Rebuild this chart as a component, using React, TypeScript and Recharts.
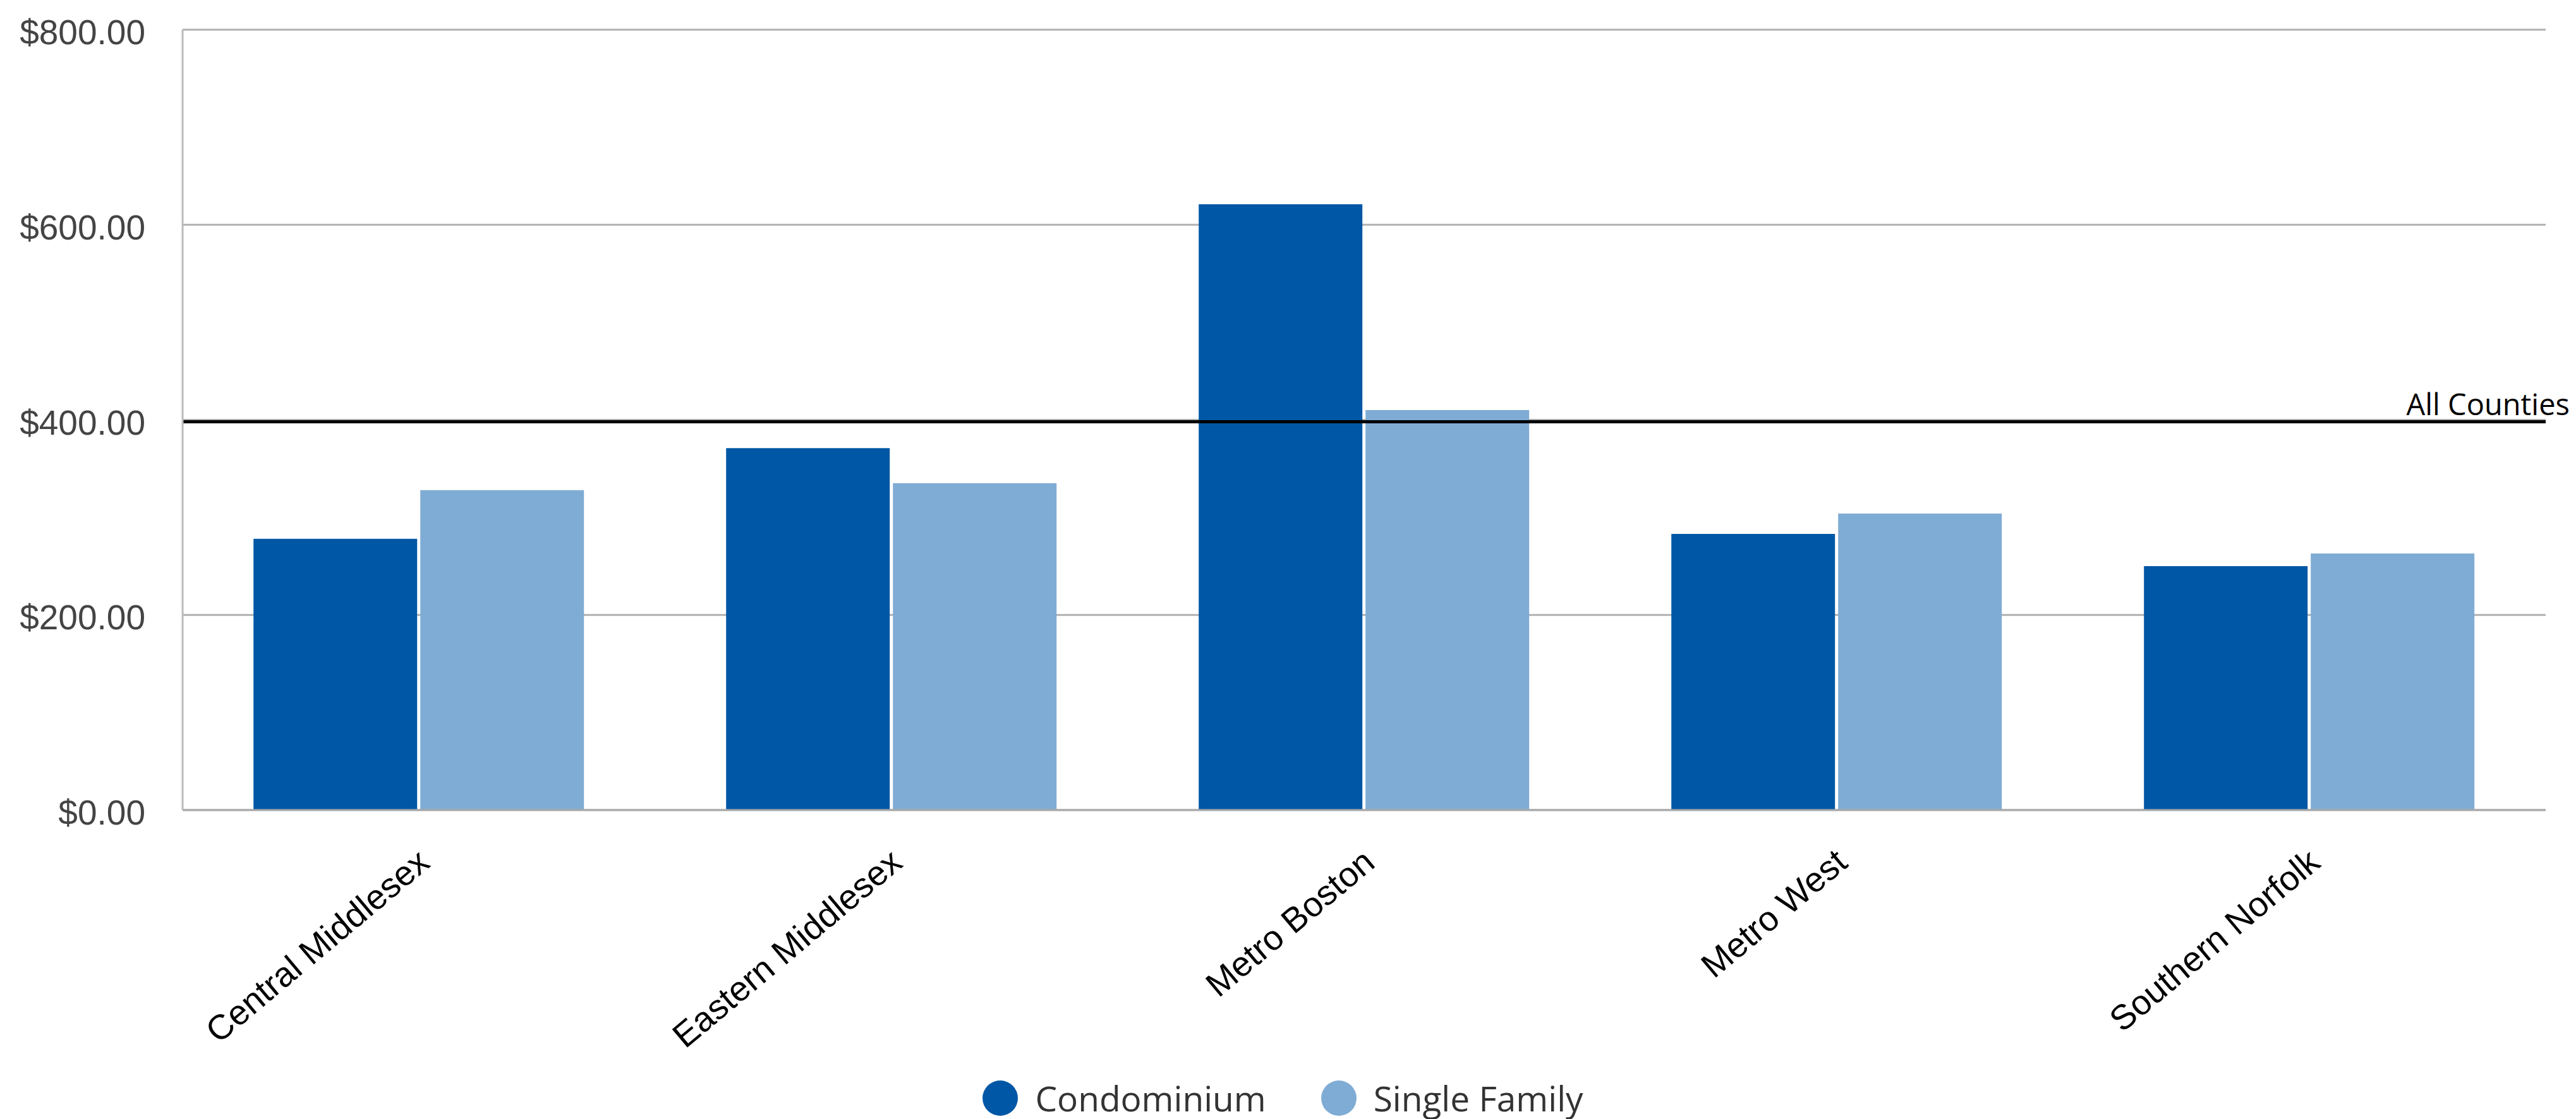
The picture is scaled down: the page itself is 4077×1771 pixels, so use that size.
import React from "react";
import {
  BarChart,
  Bar,
  XAxis,
  YAxis,
  CartesianGrid,
  ReferenceLine,
  Legend,
} from "recharts";

const categories = [
  "Central Middlesex",
  "Eastern Middlesex",
  "Metro Boston",
  "Metro West",
  "Southern Norfolk",
];
const condominiumValues = [278, 371, 621, 283, 250];
const singleFamilyValues = [328, 335, 410, 304, 263];
const yTicks = [0, 200, 400, 600, 800];
const allCountiesValue = 398;
const seriesNames = ["Condominium", "Single Family"];
const seriesColors = ["#0057a5", "#7facd4"];

const data = categories.map((c, i) => ({
  name: c,
  condo: condominiumValues[i],
  single: singleFamilyValues[i],
}));

const W = 4077;
const H = 1771;

const XTick = (props: any) => {
  const { x, y, payload } = props;
  const px = x + 20;
  const py = y + 88;
  return (
    <text
      x={px}
      y={py}
      transform={`rotate(-40, ${px}, ${py})`}
      textAnchor="end"
      fontFamily="'Liberation Sans', Arial, sans-serif"
      fontSize={55}
      fill="#000"
    >
      {payload.value}
    </text>
  );
};

const YTick = (props: any) => {
  const { x, y, payload } = props;
  return (
    <text
      x={x}
      y={y + 4}
      textAnchor="end"
      dominantBaseline="central"
      fontFamily="'Liberation Sans', Arial, sans-serif"
      fontSize={55}
      fill="#444"
    >
      {`$${Number(payload.value).toFixed(2)}`}
    </text>
  );
};

const RefLabel = (props: any) => {
  const vb = props.viewBox || {};
  return (
    <text
      x={vb.x + vb.width + 38}
      y={vb.y - 11}
      textAnchor="end"
      fontFamily="'Open Sans', sans-serif"
      fontSize={47}
      fill="#000"
    >
      All Counties
    </text>
  );
};

const LegendContent = () => {
  const items = seriesNames.map((n, i) => ({ value: n, color: seriesColors[i] }));
  return (
    <div
      style={{
        display: "flex",
        justifyContent: "center",
        alignItems: "center",
        height: 80,
        width: W,
        paddingRight: 16,
        boxSizing: "border-box",
        fontFamily: "'Open Sans', sans-serif",
        fontSize: 55,
        color: "#333",
      }}
    >
      {items.map((it, i) => (
        <div
          key={it.value}
          style={{
            display: "flex",
            alignItems: "center",
            marginLeft: i === 0 ? 0 : 87,
          }}
        >
          <span
            style={{
              display: "inline-block",
              width: 56,
              height: 56,
              borderRadius: 28,
              background: it.color,
              marginRight: 27,
            }}
          />
          <span style={{ lineHeight: "80px" }}>{it.value}</span>
        </div>
      ))}
    </div>
  );
};

export default function App() {
  return (
    <div style={{ position: "absolute", left: 0, top: 0, width: W, height: H, background: "#fff" }}>
      <BarChart
        width={W}
        height={H}
        data={data}
        margin={{ top: 47, right: 48, bottom: 0, left: 0 }}
        barCategoryGap="15%"
        barGap={5}
      >
        <CartesianGrid vertical={false} stroke="#b0b0b0" strokeWidth={3} />
        <XAxis
          dataKey="name"
          height={409}
          tickLine={false}
          tickSize={0}
          tickMargin={0}
          axisLine={{ stroke: "#aaa", strokeWidth: 3 }}
          tick={<XTick />}
          interval={0}
        />
        <YAxis
          width={289}
          domain={[0, 800]}
          ticks={yTicks}
          tickLine={false}
          tickSize={0}
          tickMargin={59}
          axisLine={{ stroke: "#bbb", strokeWidth: 3 }}
          tick={<YTick />}
        />
        <Bar dataKey="condo" name={seriesNames[0]} fill={seriesColors[0]} isAnimationActive={false} />
        <Bar dataKey="single" name={seriesNames[1]} fill={seriesColors[1]} isAnimationActive={false} />
        <ReferenceLine
          y={allCountiesValue}
          stroke="#000"
          strokeWidth={5}
          label={<RefLabel />}
        />
        <Legend
          verticalAlign="bottom"
          content={<LegendContent />}
          wrapperStyle={{ position: "absolute", top: 1698, left: 0, width: W, height: 80 }}
        />
      </BarChart>
    </div>
  );
}
